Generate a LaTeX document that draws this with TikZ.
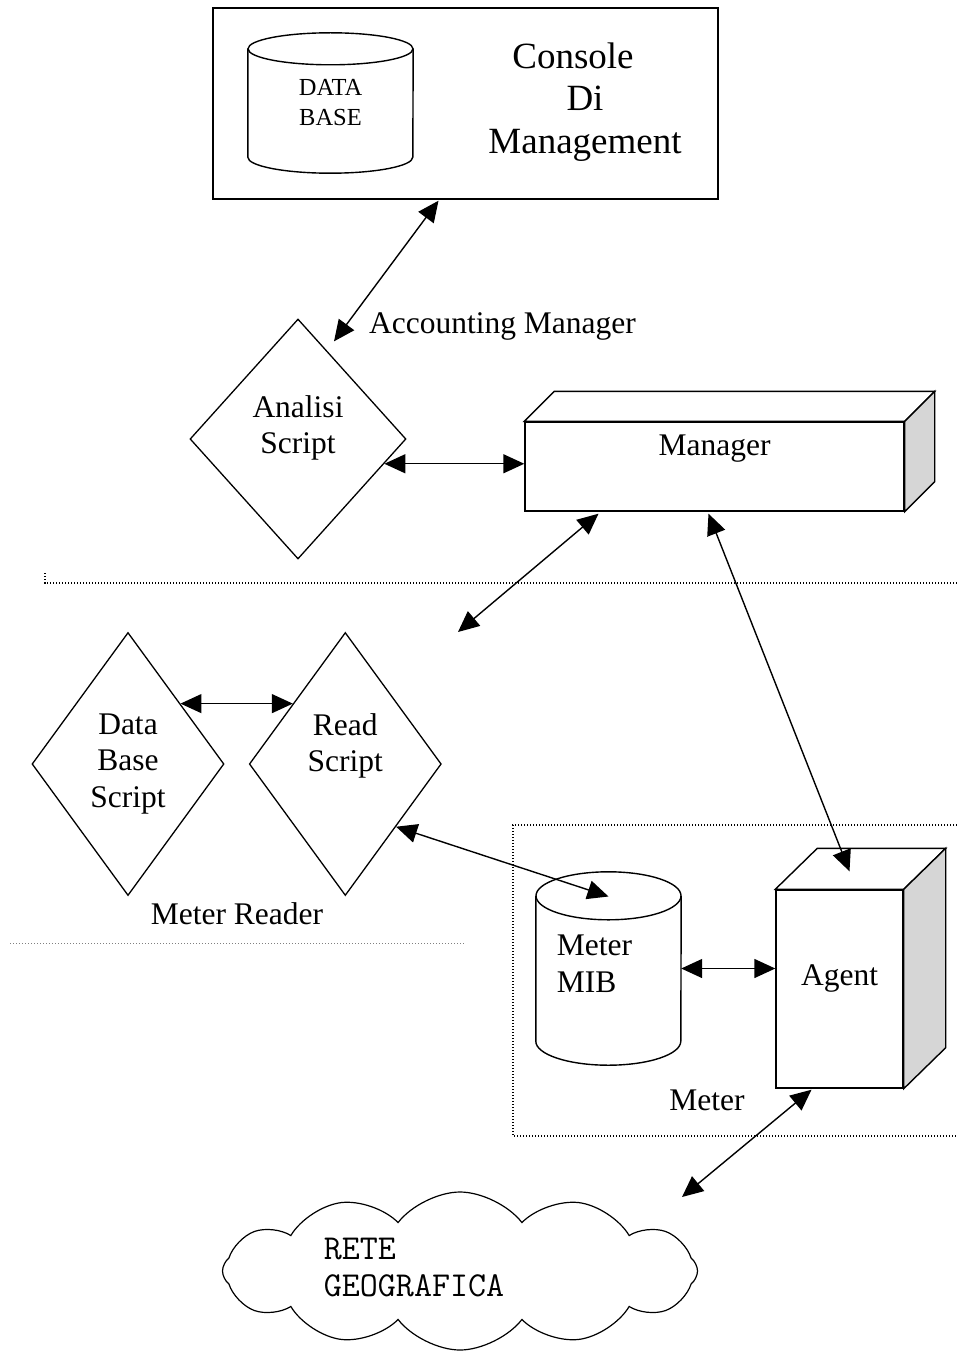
\documentclass[tikz,border=0pt]{standalone}
\usepackage{fontspec}
\setmainfont{Liberation Serif}
\usetikzlibrary{shapes.geometric,shapes.symbols,arrows.meta,positioning,calc}
\definecolor{sidegray}{gray}{0.84}

\newcommand{\depthbox}[3]{%
  \draw[line width=1.4pt,fill=white] (#1.north west) -- ++(#2,-#3) -- ($(#1.north east)+(#2,-#3)$) -- (#1.north east) -- cycle;
  \draw[line width=1.4pt,fill=sidegray] (#1.north east) -- ++(#2,-#3) -- ($(#1.south east)+(#2,-#3)$) -- (#1.south east) -- cycle;
}
\newcommand{\drum}[3]{%
  \draw[line width=1.4pt] ($(#1.north west)+(0,#3)$) -- ($(#1.south west)+(0,-#3)$)
    arc[start angle=180,end angle=360,x radius=#2pt,y radius=#3pt] -- ($(#1.north east)+(0,#3)$);
  \draw[line width=1.4pt] ($(#1.north)+(0,#3)$) ellipse[x radius=#2pt,y radius=#3pt];
}

\begin{document}
\begin{tikzpicture}[x=1pt,y=-1pt,
    font=\fontsize{31.5}{36.5}\selectfont,
    box/.style={draw,line width=1.4pt,fill=white},
    script/.style={diamond,draw,line width=1.3pt,minimum width=192pt,minimum height=263pt,inner sep=0pt,align=center},
    store/.style={rectangle,inner sep=0pt,align=center},
    link/.style={<->,>={Triangle[length=21pt,width=19pt]},line width=1.4pt},
    sep/.style={line width=1.3pt,dash pattern=on 1.3pt off 1.7pt}]
\useasboundingbox (0,0) rectangle (957,1351);

\draw[sep] (45,573) -- (45,583) -- (957,583);
\draw[sep,line width=1pt,gray] (10,943) -- (465,943);
\draw[sep] (957,825) -- (513,825) -- (513,1136) -- (957,1136);

\node[box,minimum width=505pt,minimum height=191pt] (console) at (465.5,103.5) {};
\node[store,minimum width=165pt,minimum height=140pt,font=\fontsize{24.5}{30}\selectfont] (database) at (330.5,103) {DATA\\BASE};
\drum{database}{82.5}{16}
\node[align=center,font=\fontsize{37}{42.5}\selectfont] (constext) at (585,102) {Console\hspace*{24pt}\\Di\\Management};

\node[script,minimum width=216pt,minimum height=240pt,label={[align=center,yshift=11pt]center:Analisi\\Script}] (analisi) at (298,439) {};
\node (acclabel) at (502.5,326) {Accounting Manager};

\node[box,minimum width=379pt,minimum height=89pt,label={[yshift=18pt]center:Manager}] (manager) at (714.5,466.5) {};
\depthbox{manager}{30}{30}

\node[script] (dbscript) at (128,764) {Data\\Base\\Script};
\node[script,right=24pt of dbscript,label={[align=center,yshift=18pt]center:Read\\Script}] (readscript) {};
\node (readerlabel) at (237,914) {Meter Reader};

\node[store,minimum width=145pt,minimum height=193pt,label={[align=left,xshift=-14pt,yshift=5pt]center:Meter\\MIB}] (mib) at (608.5,968.5) {};
\drum{mib}{72.5}{24}
\node[box,minimum width=127pt,minimum height=198pt,label={[yshift=11pt]center:Agent}] (agent) at (839.5,989) {};
\depthbox{agent}{42}{41}
\node (meterlabel) at (707,1100) {Meter};

\node[cloud,draw,line width=1.2pt,cloud puffs=12,cloud puff arc=105,cloud ignores aspect,minimum width=475pt,minimum height=158pt,
  label={[align=left,font=\ttfamily\fontsize{35}{37}\selectfont,xshift=-46pt,yshift=3pt]center:RETE\\GEOGRAFICA}] (rete) at (460,1271) {};

\coordinate (mrend) at (458,632);

\draw[link] ($(console.south)+(-27,1)$) -- ($(analisi.north)+(36,23)$);
\draw[link] (analisi.-16) -- (analisi.-16 -| manager.west);
\draw[link] ($(manager.south)+(-116,2)$) -- (mrend);
\draw[link] ($(manager.south)+(-6,2)$) -- ($(agent.north)+(10,-18)$);
\draw[link] (dbscript.49) -- (dbscript.49 -| readscript.131);
\draw[link] (readscript.-51) -- ($(mib.center)+(0,-72)$);
\draw[link] (mib.east) -- (mib.east -| agent.west);
\draw[link] ($(agent.south)+(-28,1)$) -- ($(rete.center)+(222,-74)$);
\end{tikzpicture}
\end{document}
